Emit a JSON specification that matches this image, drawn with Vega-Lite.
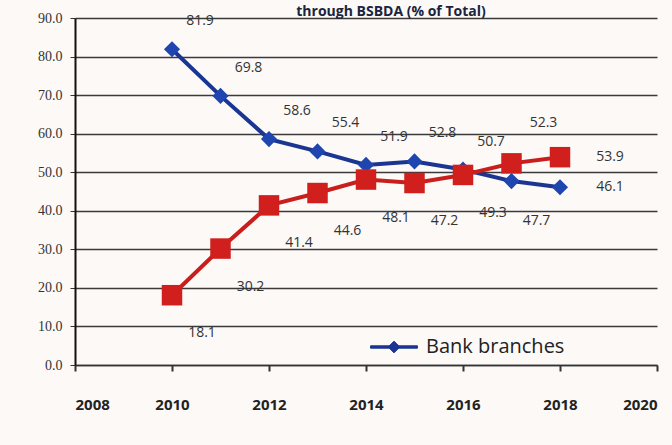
{
  "$schema": "https://vega.github.io/schema/vega-lite/v6.json",
  "autosize": "none",
  "width": 582,
  "height": 347,
  "padding": {"left": 75, "top": 18, "right": 15, "bottom": 80},
  "background": "#fcf9f7",
  "title": {"text": "through BSBDA (% of Total)", "fontSize": 14, "font": "Open Sans", "fontWeight": "bold", "color": "#1a2440", "anchor": "middle", "dx": 25, "dy": 22, "offset": 0, "baseline": "bottom"},
  "config": {"view": {"stroke": null}},
  "data": {"values": [
    {"year": 2010, "series": "Bank branches", "value": 81.9},
    {"year": 2011, "series": "Bank branches", "value": 69.8},
    {"year": 2012, "series": "Bank branches", "value": 58.6},
    {"year": 2013, "series": "Bank branches", "value": 55.4},
    {"year": 2014, "series": "Bank branches", "value": 51.9},
    {"year": 2015, "series": "Bank branches", "value": 52.8},
    {"year": 2016, "series": "Bank branches", "value": 50.7},
    {"year": 2017, "series": "Bank branches", "value": 47.7},
    {"year": 2018, "series": "Bank branches", "value": 46.1},
    {"year": 2010, "series": "BCs", "value": 18.1},
    {"year": 2011, "series": "BCs", "value": 30.2},
    {"year": 2012, "series": "BCs", "value": 41.4},
    {"year": 2013, "series": "BCs", "value": 44.6},
    {"year": 2014, "series": "BCs", "value": 48.1},
    {"year": 2015, "series": "BCs", "value": 47.2},
    {"year": 2016, "series": "BCs", "value": 49.3},
    {"year": 2017, "series": "BCs", "value": 52.3},
    {"year": 2018, "series": "BCs", "value": 53.9}
  ]},
  "encoding": {
    "x": {"field": "year", "type": "quantitative", "scale": {"domain": [2008, 2020], "nice": false},
      "axis": {"values": [2008, 2010, 2012, 2014, 2016, 2018, 2020], "format": "d", "title": null, "grid": false,
        "labelFont": "Open Sans", "labelFontWeight": "bold", "labelFontSize": 15, "labelColor": "#222", "labelPadding": 26,
        "domainColor": "#333", "domainWidth": 1.5, "tickColor": "#333", "tickSize": 6, "tickWidth": 2}},
    "y": {"field": "value", "type": "quantitative", "scale": {"domain": [0, 90], "nice": false},
      "axis": {"values": [0, 10, 20, 30, 40, 50, 60, 70, 80, 90], "format": ".1f", "title": null,
        "labelFont": "Liberation Serif", "labelFontSize": 14, "labelColor": "#333", "labelPadding": 8,
        "grid": true, "gridColor": "#3a3a3a", "gridWidth": 1.3,
        "domainColor": "#111", "domainWidth": 2, "tickColor": "#333", "tickSize": 5}}
  },
  "layer": [
    {
      "mark": {"type": "line", "strokeWidth": 4},
      "encoding": {
        "color": {"field": "series", "type": "nominal",
          "scale": {"domain": ["Bank branches", "BCs"], "range": ["#1a3592", "#c81f1c"]},
          "legend": {"values": ["Bank branches"], "title": null, "orient": "none", "legendX": 295, "legendY": 305,
            "symbolType": "M-1,-0.05H1V0.05H-1Z M-0.25,0L0,-0.25L0.25,0L0,0.25Z", "symbolSize": 2200,
            "labelFont": "Open Sans", "labelFontSize": 20, "labelColor": "#222", "labelOffset": 8,
            "encode": {"symbols": {"update": {"stroke": {"value": "#1a3592"}, "strokeWidth": {"value": 1}, "fill": {"value": "#1a3592"}, "fillOpacity": {"value": 1}, "opacity": {"value": 1}}}}}}
      }
    },
    {
      "mark": {"type": "point", "filled": true, "opacity": 1},
      "encoding": {
        "shape": {"condition": {"test": "datum.series == 'BCs'", "value": "square"}, "value": "diamond"},
        "size": {"condition": {"test": "datum.series == 'BCs'", "value": 420}, "value": 260},
        "color": {"condition": {"test": "datum.series == 'BCs'", "value": "#d01f1d"}, "value": "#1e45b0"}
      }
    },
    {
      "transform": [{"filter": "datum.series == 'Bank branches' && datum.year <= 2016"}],
      "mark": {"type": "text", "dx": 28, "dy": -28, "font": "Open Sans", "fontSize": 14, "color": "#333"},
      "encoding": {"text": {"field": "value", "type": "quantitative", "format": ".1f"}}
    },
    {
      "transform": [{"filter": "datum.series == 'Bank branches' && datum.year == 2017"}],
      "mark": {"type": "text", "dx": 25, "dy": 40, "font": "Open Sans", "fontSize": 14, "color": "#333"},
      "encoding": {"text": {"field": "value", "type": "quantitative", "format": ".1f"}}
    },
    {
      "transform": [{"filter": "datum.year == 2018"}],
      "mark": {"type": "text", "dx": 50, "dy": 0, "font": "Open Sans", "fontSize": 14, "color": "#333"},
      "encoding": {"text": {"field": "value", "type": "quantitative", "format": ".1f"}}
    },
    {
      "transform": [{"filter": "datum.series == 'BCs' && datum.year <= 2016"}],
      "mark": {"type": "text", "dx": 30, "dy": 38, "font": "Open Sans", "fontSize": 14, "color": "#333"},
      "encoding": {"text": {"field": "value", "type": "quantitative", "format": ".1f"}}
    },
    {
      "transform": [{"filter": "datum.series == 'BCs' && datum.year == 2017"}],
      "mark": {"type": "text", "dx": 32, "dy": -40, "font": "Open Sans", "fontSize": 14, "color": "#333"},
      "encoding": {"text": {"field": "value", "type": "quantitative", "format": ".1f"}}
    }
  ]
}
